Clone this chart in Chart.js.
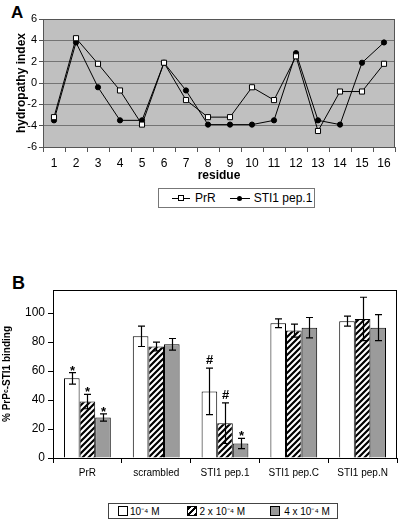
<!DOCTYPE html>
<html>
<head>
<meta charset="utf-8">
<script src="https://cdn.jsdelivr.net/npm/chart.js@4"></script>
<style>
  body { margin: 0; background: #fff; font-family: "Liberation Sans", Arial, sans-serif; }
  #wrap { position: relative; width: 400px; height: 522px; }
  canvas { position: absolute; left: 0; }
  .letter { position: absolute; font-weight: bold; color: #000; }
  .legend { position: absolute; border: 1px solid #777; background: #fff; box-sizing: border-box;
            display: flex; align-items: center; color: #000; white-space: nowrap; }
  .sw { display: inline-block; box-sizing: border-box; }
</style>
</head>
<body>
<div id="wrap">
  <div class="letter" style="left:11px; top:3px; font-size:17px;">A</div>
  <canvas id="chartA" width="400" height="190" style="top:0"></canvas>
  <div class="legend" style="left:158px; top:188px; width:157px; height:20px; font-size:12px;">
    <span style="position:relative; display:inline-block; width:18px; height:10px; margin-left:13px;">
      <span style="position:absolute; left:0; right:0; top:5px; border-top:1px solid #000;"></span>
      <span style="position:absolute; left:6px; top:2px; width:6px; height:6px; border:1px solid #000; background:#fff; box-sizing:border-box;"></span>
    </span>
    <span style="margin-left:5px;">PrR</span>
    <span style="position:relative; display:inline-block; width:20px; height:10px; margin-left:14px;">
      <span style="position:absolute; left:0; right:0; top:5px; border-top:1px solid #000;"></span>
      <span style="position:absolute; left:7px; top:3px; width:5px; height:5px; border-radius:50%; background:#000;"></span>
    </span>
    <span style="margin-left:4px;">STI1 pep.1</span>
  </div>

  <div class="letter" style="left:12px; top:273px; font-size:18px;">B</div>
  <canvas id="chartB" width="400" height="222" style="top:270px"></canvas>
  <div class="legend" style="left:108px; top:503px; width:230px; height:16px; font-size:10px; border-color:#444;">
    <span class="sw" style="width:10px; height:10px; border:1px solid #000; background:#fff; margin-left:9px;"></span>
    <span style="margin-left:2px;">10⁻⁴ M</span>
    <span class="sw" style="width:10px; height:10px; border:1px solid #000; margin-left:27px;
      background: repeating-linear-gradient(-45deg, #000 0 2px, #fff 2px 4.5px);"></span>
    <span style="margin-left:3px;">2 x 10⁻⁴ M</span>
    <span class="sw" style="width:10px; height:10px; border:1px solid #000; background:#999; margin-left:25px;"></span>
    <span style="margin-left:4px;">4 x 10⁻⁴ M</span>
  </div>
</div>

<script>
// ---- panel A data (hydropathy index per residue)
const residues = ['1','2','3','4','5','6','7','8','9','10','11','12','13','14','15','16'];
const prrHydro = [-3.2, 4.2, 1.8, -0.7, -3.9, 1.9, -1.6, -3.2, -3.2, -0.4, -1.6, 2.5, -4.5, -0.8, -0.8, 1.8];
const pep1Hydro = [-3.5, 3.8, -0.4, -3.5, -3.5, 1.9, -0.7, -3.9, -3.9, -3.9, -3.5, 2.8, -3.5, -3.9, 1.9, 3.8];

// ---- panel B data (% PrPc-STI1 binding)
const peptides = ['PrR', 'scrambled', 'STI1 pep.1', 'STI1 pep.C', 'STI1 pep.N'];
const concLabels = ['10⁻⁴ M', '2 x 10⁻⁴ M', '4 x 10⁻⁴ M'];
const bind1x = [55, 84, 46, 93, 94.5];
const err1x = [4, 7, 16, 3, 3.5];
const mark1x = ['*', '', '#', '', ''];
const bind2x = [39, 77, 24, 88, 96];
const err2x = [5, 3, 14, 4.5, 15];
const mark2x = ['*', '', '#', '', ''];
const bind4x = [28, 78.5, 10, 90, 90];
const err4x = [2.5, 4, 3.5, 7, 9];
const mark4x = ['*', '', '*', '', ''];

const FONT = '"Liberation Sans", Arial, sans-serif';
Chart.defaults.font.family = FONT;
Chart.defaults.color = '#000';

// grey plot background + frame
const plotBox = {
  id: 'plotBox',
  beforeDraw(chart, args, opts) {
    const a = chart.chartArea, ctx = chart.ctx;
    if (opts.fill) {
      ctx.save();
      ctx.fillStyle = opts.fill;
      ctx.fillRect(a.left, a.top, a.right - a.left, a.bottom - a.top);
      ctx.restore();
    }
  },
  afterDraw(chart, args, opts) {
    const a = chart.chartArea, ctx = chart.ctx;
    ctx.save();
    ctx.strokeStyle = opts.stroke || '#000';
    ctx.lineWidth = 1;
    ctx.strokeRect(Math.round(a.left) + 0.5, Math.round(a.top) + 0.5,
      Math.round(a.right - a.left) - 1, Math.round(a.bottom - a.top));
    ctx.restore();
  }
};

new Chart(document.getElementById('chartA'), {
  type: 'line',
  data: {
    labels: residues,
    datasets: [
      {
        label: 'PrR', data: prrHydro,
        borderColor: '#000', borderWidth: 1, tension: 0,
        pointStyle: 'rect', pointRadius: 3.6, pointBackgroundColor: '#fff',
        pointBorderColor: '#000', pointBorderWidth: 1
      },
      {
        label: 'STI1 pep.1', data: pep1Hydro,
        borderColor: '#000', borderWidth: 1, tension: 0,
        pointStyle: 'circle', pointRadius: 2.6, pointBackgroundColor: '#000',
        pointBorderColor: '#000', pointBorderWidth: 1
      }
    ]
  },
  options: {
    responsive: false, animation: false,
    layout: { padding: { top: 19, right: 5, left: 10, bottom: 3 } },
    plugins: {
      legend: { display: false }, tooltip: { enabled: false },
      plotBox: { fill: '#c0c0c0', stroke: '#555' }
    },
    scales: {
      x: {
        offset: true,
        grid: { offset: true, drawOnChartArea: false, tickLength: 5, color: '#555' },
        border: { color: '#555' },
        ticks: { font: { size: 12 }, padding: 4, maxRotation: 0 },
        title: { display: true, text: 'residue', font: { size: 12, weight: 'bold' }, padding: { top: 2, bottom: 4 } },
        afterFit(s) { s.height = 40; }
      },
      y: {
        min: -6, max: 6,
        ticks: { stepSize: 2, font: { size: 11 }, padding: 2 },
        grid: { color: '#747474', tickLength: 4, tickColor: '#555' },
        border: { color: '#555' },
        title: { display: true, text: 'hydropathy index', font: { size: 12, weight: 'bold' }, padding: { top: 4, bottom: 2 } },
        afterFit(s) { s.width = 33; }
      }
    }
  },
  plugins: [plotBox]
});

// hatch pattern for 2 x 10-4 M bars
function makeHatch() {
  const c = document.createElement('canvas');
  const n = 6;
  c.width = n; c.height = n;
  const g = c.getContext('2d');
  g.fillStyle = '#fff';
  g.fillRect(0, 0, n, n);
  g.strokeStyle = '#000';
  g.lineWidth = 2.2;
  g.beginPath();
  g.moveTo(-1, n + 1); g.lineTo(n + 1, -1);
  g.moveTo(-n / 2 - 1, n / 2 + 1); g.lineTo(n / 2 + 1, -n / 2 - 1);
  g.moveTo(n / 2 - 1, n * 1.5 + 1); g.lineTo(n * 1.5 + 1, n / 2 - 1);
  g.stroke();
  return g.createPattern(c, 'repeat');
}
const ctxB = document.getElementById('chartB').getContext('2d');

// error bars + significance marks, drawn from the scales
const errorBars = {
  id: 'errorBars',
  afterDatasetsDraw(chart) {
    const ctx = chart.ctx, ys = chart.scales.y;
    chart.data.datasets.forEach((ds, i) => {
      const meta = chart.getDatasetMeta(i);
      meta.data.forEach((bar, j) => {
        const v = ds.data[j], e = ds.errors[j];
        const x = Math.round(bar.x) + 0.5;
        const yt = ys.getPixelForValue(v + e), yb = ys.getPixelForValue(v - e);
        ctx.save();
        ctx.strokeStyle = '#000';
        ctx.lineWidth = 1.2;
        ctx.beginPath();
        ctx.moveTo(x, yt); ctx.lineTo(x, yb);
        ctx.moveTo(x - 3.5, yt); ctx.lineTo(x + 3.5, yt);
        ctx.moveTo(x - 3.5, yb); ctx.lineTo(x + 3.5, yb);
        ctx.stroke();
        const m = ds.marks[j];
        if (m) {
          ctx.fillStyle = '#000';
          ctx.font = 'bold 13px ' + FONT;
          ctx.textAlign = 'center';
          ctx.textBaseline = 'alphabetic';
          ctx.fillText(m, x, m === '*' ? yt + 2 : yt - 4);
        }
        ctx.restore();
      });
    });
  }
};

new Chart(ctxB, {
  type: 'bar',
  data: {
    labels: peptides,
    datasets: [
      { label: concLabels[0], data: bind1x, errors: err1x, marks: mark1x,
        backgroundColor: '#fff', borderColor: '#000', borderWidth: 1, borderSkipped: 'bottom' },
      { label: concLabels[1], data: bind2x, errors: err2x, marks: mark2x,
        backgroundColor: makeHatch(), borderColor: '#000', borderWidth: 1, borderSkipped: 'bottom' },
      { label: concLabels[2], data: bind4x, errors: err4x, marks: mark4x,
        backgroundColor: '#9b9b9b', borderColor: '#000', borderWidth: 1, borderSkipped: 'bottom' }
    ]
  },
  options: {
    responsive: false, animation: false,
    layout: { padding: { top: 20, right: 3, left: 1, bottom: 4 } },
    datasets: { bar: { barPercentage: 1, categoryPercentage: 0.68 } },
    plugins: {
      legend: { display: false }, tooltip: { enabled: false },
      plotBox: { stroke: '#000' }
    },
    scales: {
      x: {
        grid: { offset: true, drawOnChartArea: false, tickLength: 5, color: '#000' },
        border: { color: '#000' },
        ticks: { font: { size: 10 }, padding: 4, maxRotation: 0 },
        afterFit(s) { s.height = 30; }
      },
      y: {
        min: 0, max: 116,
        ticks: { stepSize: 20, font: { size: 12 }, padding: 3 },
        afterBuildTicks(s) { s.ticks = s.ticks.filter(t => t.value % 20 === 0); },
        grid: { drawOnChartArea: false, tickLength: 5, color: '#000' },
        border: { color: '#000' },
        title: { display: true, text: '% PrPᶜ-STI1 binding', font: { size: 10, weight: 'bold' }, padding: { top: 0, bottom: 2 } },
        afterFit(s) { s.width = 52; }
      }
    }
  },
  plugins: [plotBox, errorBars]
});
</script>
</body>
</html>
